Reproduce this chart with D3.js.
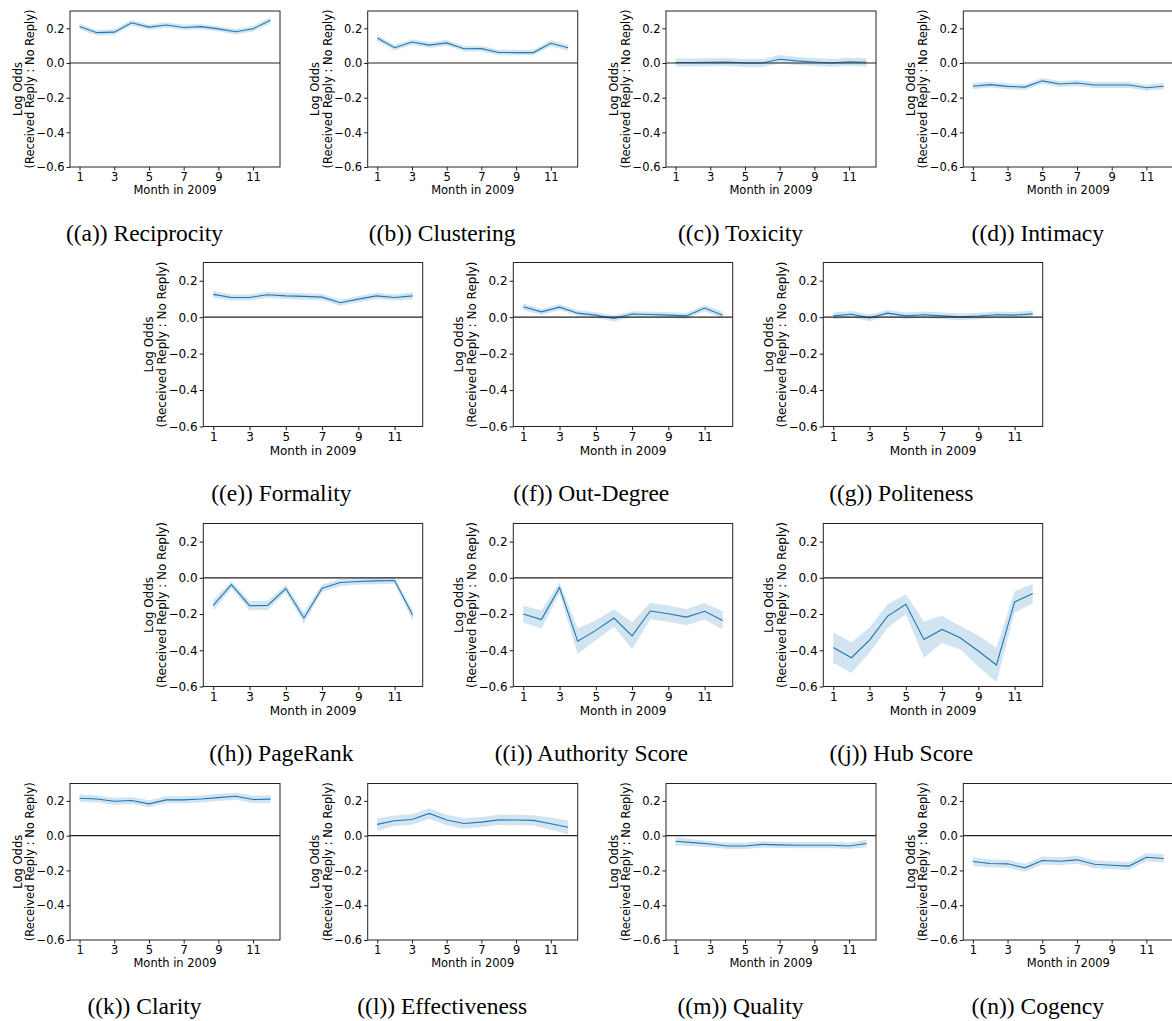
<!DOCTYPE html>
<html>
<head>
<meta charset="utf-8">
<script src="https://cdn.jsdelivr.net/npm/d3@7"></script>
<style>
  body { margin: 0; background: #fff; }
  svg { display: block; }
</style>
</head>
<body>
<div id="root"></div>
<script>
var months = [1, 2, 3, 4, 5, 6, 7, 8, 9, 10, 11, 12];
var monthTicks = [1, 3, 5, 7, 9, 11];
var oddsTicks = [-0.6, -0.4, -0.2, 0.0, 0.2];
var xLabel = 'Month in 2009';
var yLabel = ['Log Odds', '(Received Reply : No Reply)'];

// mean log odds per month, and the half width of the shaded band
var reciprocity = [0.210, 0.175, 0.178, 0.232, 0.207, 0.219, 0.205, 0.210, 0.197, 0.180, 0.198, 0.246];
var reciprocityCi = [0.017, 0.016, 0.016, 0.016, 0.015, 0.015, 0.015, 0.015, 0.015, 0.016, 0.016, 0.018];
var clustering = [0.144, 0.088, 0.121, 0.103, 0.116, 0.082, 0.083, 0.061, 0.060, 0.060, 0.114, 0.088];
var clusteringCi = [0.018, 0.016, 0.016, 0.016, 0.016, 0.016, 0.016, 0.016, 0.016, 0.016, 0.017, 0.018];
var toxicity = [0.003, 0.003, 0.004, 0.006, 0.000, 0.000, 0.022, 0.012, 0.006, 0.000, 0.007, 0.004];
var toxicityCi = [0.024, 0.023, 0.023, 0.023, 0.023, 0.023, 0.024, 0.023, 0.023, 0.023, 0.023, 0.024];
var intimacy = [-0.134, -0.125, -0.135, -0.139, -0.103, -0.121, -0.115, -0.127, -0.127, -0.127, -0.143, -0.134];
var intimacyCi = [0.018, 0.017, 0.017, 0.017, 0.017, 0.017, 0.017, 0.017, 0.017, 0.017, 0.017, 0.019];
var formality = [0.125, 0.108, 0.108, 0.123, 0.117, 0.114, 0.110, 0.079, 0.099, 0.117, 0.108, 0.117];
var formalityCi = [0.019, 0.017, 0.017, 0.017, 0.017, 0.017, 0.017, 0.017, 0.017, 0.017, 0.017, 0.020];
var outDegree = [0.057, 0.029, 0.055, 0.022, 0.011, -0.007, 0.017, 0.015, 0.011, 0.007, 0.050, 0.011];
var outDegreeCi = [0.018, 0.016, 0.016, 0.016, 0.016, 0.017, 0.016, 0.016, 0.016, 0.016, 0.017, 0.018];
var politeness = [0.007, 0.016, -0.004, 0.022, 0.007, 0.013, 0.007, 0.002, 0.006, 0.013, 0.011, 0.018];
var politenessCi = [0.019, 0.018, 0.018, 0.018, 0.018, 0.018, 0.018, 0.018, 0.018, 0.018, 0.018, 0.020];
var pageRank = [-0.152, -0.037, -0.154, -0.152, -0.059, -0.222, -0.057, -0.026, -0.020, -0.017, -0.015, -0.207];
var pageRankCi = [0.030, 0.020, 0.025, 0.025, 0.020, 0.030, 0.020, 0.020, 0.018, 0.018, 0.018, 0.030];
var authority = [-0.200, -0.230, -0.054, -0.350, -0.290, -0.222, -0.320, -0.183, -0.198, -0.217, -0.185, -0.235];
var authorityCi = [0.046, 0.050, 0.030, 0.070, 0.055, 0.048, 0.075, 0.045, 0.045, 0.045, 0.045, 0.050];
var hub = [-0.385, -0.441, -0.344, -0.211, -0.146, -0.341, -0.285, -0.331, -0.404, -0.481, -0.133, -0.087];
var hubCi = [0.085, 0.085, 0.070, 0.065, 0.055, 0.100, 0.075, 0.065, 0.085, 0.095, 0.058, 0.055];
var clarity = [0.215, 0.211, 0.198, 0.202, 0.183, 0.206, 0.206, 0.211, 0.219, 0.227, 0.208, 0.210];
var clarityCi = [0.022, 0.020, 0.020, 0.020, 0.020, 0.020, 0.020, 0.020, 0.020, 0.020, 0.021, 0.023];
var effectiveness = [0.065, 0.086, 0.093, 0.128, 0.090, 0.070, 0.078, 0.091, 0.090, 0.088, 0.069, 0.048];
var effectivenessCi = [0.035, 0.030, 0.030, 0.030, 0.030, 0.030, 0.030, 0.030, 0.030, 0.030, 0.035, 0.040];
var quality = [-0.032, -0.040, -0.048, -0.059, -0.059, -0.050, -0.053, -0.055, -0.055, -0.055, -0.059, -0.045];
var qualityCi = [0.025, 0.020, 0.018, 0.018, 0.018, 0.018, 0.018, 0.018, 0.018, 0.018, 0.018, 0.022];
var cogency = [-0.149, -0.160, -0.162, -0.185, -0.143, -0.147, -0.139, -0.164, -0.170, -0.175, -0.124, -0.131];
var cogencyCi = [0.025, 0.023, 0.023, 0.023, 0.023, 0.023, 0.023, 0.023, 0.023, 0.023, 0.023, 0.025];

var captions = ['((a)) Reciprocity', '((b)) Clustering', '((c)) Toxicity', '((d)) Intimacy',
  '((e)) Formality', '((f)) Out-Degree', '((g)) Politeness',
  '((h)) PageRank', '((i)) Authority Score', '((j)) Hub Score',
  '((k)) Clarity', '((l)) Effectiveness', '((m)) Quality', '((n)) Cogency'];
var means = [reciprocity, clustering, toxicity, intimacy, formality, outDegree, politeness,
  pageRank, authority, hub, clarity, effectiveness, quality, cogency];
var cis = [reciprocityCi, clusteringCi, toxicityCi, intimacyCi, formalityCi, outDegreeCi, politenessCi,
  pageRankCi, authorityCi, hubCi, clarityCi, effectivenessCi, qualityCi, cogencyCi];

// page layout, one entry per row of sub-figures
var rows = [
  { top: 11, w: 210, h: 156, s: 1, capDx: 74.5, lefts: [70, 367.7, 666, 963.3] },
  { top: 262.5, w: 219.4, h: 164, s: 1.045, capDx: 78, lefts: [203.3, 513.3, 823.3] },
  { top: 523.5, w: 219.4, h: 163, s: 1.045, capDx: 78, lefts: [203.3, 513.3, 823.3] },
  { top: 783.5, w: 210, h: 156.5, s: 1, capDx: 74.5, lefts: [70, 367.7, 666, 963.3] }
];

var svg = d3.select('#root')
  .append('svg')
    .attr('width', 1172)
    .attr('height', 1021);

var idx = 0;
rows.forEach(function (row) {
  row.lefts.forEach(function (left) {
    drawPanel(left, row, idx);
    idx++;
  });
});

function drawPanel(left, row, k) {
  var w = row.w, h = row.h, s = row.s;
  var fs = 11.5 * s;
  var g = svg.append('g').attr('transform', 'translate(' + left + ',' + row.top + ')');

  var x = d3.scaleLinear().domain([0.45, 12.55]).range([0, w]);
  var y = d3.scaleLinear().domain([-0.6, 0.3]).range([h, 0]);

  var mean = means[k], ci = cis[k];

  var clipId = 'clip' + k;
  g.append('clipPath').attr('id', clipId)
    .append('rect').attr('width', w).attr('height', h);

  var plot = g.append('g').attr('clip-path', 'url(#' + clipId + ')');

  var band = d3.area()
    .x(function (d, i) { return x(months[i]); })
    .y0(function (d, i) { return y(mean[i] - ci[i]); })
    .y1(function (d, i) { return y(mean[i] + ci[i]); });

  plot.append('path')
    .datum(mean)
    .attr('d', band)
    .attr('fill', '#1f77b4')
    .attr('fill-opacity', 0.2);

  var line = d3.line()
    .x(function (d, i) { return x(months[i]); })
    .y(function (d) { return y(d); });

  plot.append('path')
    .datum(mean)
    .attr('d', line)
    .attr('fill', 'none')
    .attr('stroke', '#1f77b4')
    .attr('stroke-width', 1.1);

  // zero reference line
  plot.append('line')
    .attr('x1', 0).attr('x2', w)
    .attr('y1', y(0)).attr('y2', y(0))
    .attr('stroke', '#222')
    .attr('stroke-width', 1.2);

  var yAxis = g.append('g')
    .call(d3.axisLeft(y).tickValues(oddsTicks).tickFormat(d3.format('.1f'))
      .tickSize(3.5 * s).tickPadding(2 * s));
  var xAxis = g.append('g')
    .attr('transform', 'translate(0,' + h + ')')
    .call(d3.axisBottom(x).tickValues(monthTicks).tickFormat(d3.format('d'))
      .tickSize(3.5 * s).tickPadding(2.5 * s));

  [yAxis, xAxis].forEach(function (ax) {
    ax.select('.domain').remove();
    ax.selectAll('line').attr('stroke', '#000').attr('stroke-width', 0.9);
    ax.selectAll('text')
      .attr('fill', '#000')
      .style('font-family', 'DejaVu Sans, sans-serif')
      .style('font-size', fs + 'px');
  });

  g.append('rect')
    .attr('width', w).attr('height', h)
    .attr('fill', 'none')
    .attr('stroke', '#222')
    .attr('stroke-width', 1);

  g.append('text')
    .attr('x', w / 2)
    .attr('y', h + 27 * s)
    .attr('text-anchor', 'middle')
    .style('font-family', 'DejaVu Sans, sans-serif')
    .style('font-size', fs + 'px')
    .text(xLabel);

  var yl = g.append('text')
    .attr('transform', 'translate(' + (-48.5 * s) + ',' + (h / 2) + ') rotate(-90)')
    .attr('text-anchor', 'middle')
    .style('font-family', 'DejaVu Sans, sans-serif')
    .style('font-size', fs + 'px');
  yl.append('tspan').attr('x', 0).attr('y', 0).text(yLabel[0]);
  yl.append('tspan').attr('x', 0).attr('y', 12.5 * s).text(yLabel[1]);

  g.append('text')
    .attr('x', row.capDx)
    .attr('y', h + 74)
    .attr('text-anchor', 'middle')
    .style('font-family', 'Liberation Serif, Times New Roman, serif')
    .style('font-size', '23.5px')
    .text(captions[k]);
}
</script>
</body>
</html>
